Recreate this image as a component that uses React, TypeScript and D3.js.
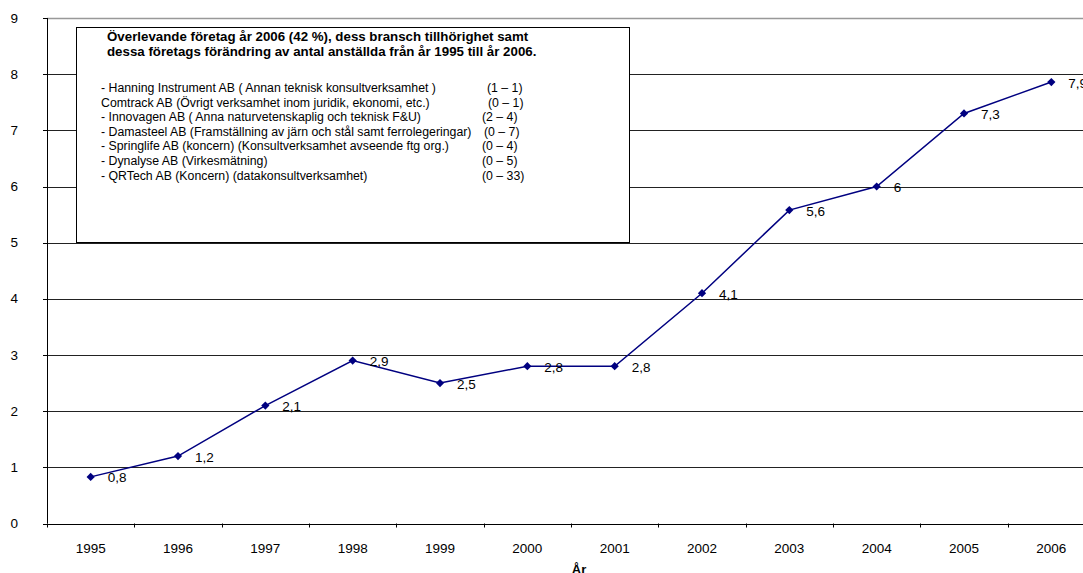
import * as d3 from 'd3'

const years = ['1995', '1996', '1997', '1998', '1999', '2000', '2001', '2002', '2003', '2004', '2005', '2006']
const values = [0.83, 1.2, 2.1, 2.9, 2.5, 2.8, 2.8, 4.1, 5.58, 6, 7.3, 7.86]
const yTicks = [0, 1, 2, 3, 4, 5, 6, 7, 8, 9]

const noteTitle = [
  'Överlevande företag år 2006 (42 %), dess bransch tillhörighet samt',
  'dessa företags förändring av antal anställda från år 1995 till år 2006.',
]
const noteCompanies = [
  '- Hanning Instrument AB ( Annan teknisk konsultverksamhet )',
  'Comtrack AB (Övrigt verksamhet inom juridik, ekonomi, etc.)',
  '- Innovagen AB ( Anna naturvetenskaplig och teknisk F&U)',
  '- Damasteel AB (Framställning av järn och stål samt ferrolegeringar)',
  '- Springlife AB (koncern) (Konsultverksamhet avseende ftg org.)',
  '- Dynalyse AB (Virkesmätning)',
  '- QRTech AB (Koncern) (datakonsultverksamhet)',
]
const noteRanges = ['(1 – 1)', '(0 – 1)', '(2 – 4)', '(0 – 7)', '(0 – 4)', '(0 – 5)', '(0 – 33)']
const rangeOffsets = [5, 6, 0, 2, 0, 0, 0]

const WIDTH = 1083
const HEIGHT = 573
const PLOT = { left: 47, top: 18, bottom: 523.5, right: 1095 }
const FONT = 'Arial, "Liberation Sans", sans-serif'

const fmt = (v: number) => {
  const s = v.toFixed(1)
  return (s.endsWith('.0') ? s.slice(0, -2) : s).replace('.', ',')
}

export default function App() {
  const x = d3.scaleBand<string>().domain(years).range([PLOT.left, PLOT.right])
  const y = d3.scaleLinear().domain([0, 9]).range([PLOT.bottom, PLOT.top])
  const cx = (yr: string) => (x(yr) ?? 0) + x.bandwidth() / 2

  const line = d3.line<number>()
    .x((_, i) => cx(years[i]))
    .y(d => y(d))

  // square rotated 45deg gives the Excel-style diamond
  const marker = d3.symbol().type(d3.symbolSquare).size(34)()

  const edges = years.map(yr => x(yr) ?? 0).concat([PLOT.right])

  return (
    <svg
      width={WIDTH}
      height={HEIGHT}
      style={{ position: 'absolute', left: 0, top: 0, background: '#fff', fontFamily: FONT }}
    >
      {/* gridlines */}
      {yTicks.filter(t => t > 0).map(t => (
        <line
          key={`g-${t}`}
          x1={PLOT.left}
          x2={WIDTH}
          y1={Math.round(y(t)) + 0.5}
          y2={Math.round(y(t)) + 0.5}
          stroke={t === 9 ? '#999' : '#222'}
          strokeWidth={t === 9 ? 1.5 : 1}
        />
      ))}

      {/* y axis */}
      <line x1={PLOT.left + 0.5} x2={PLOT.left + 0.5} y1={PLOT.top} y2={PLOT.bottom} stroke="#000" />
      {yTicks.map(t => (
        <g key={`yt-${t}`}>
          <line x1={PLOT.left - 4} x2={PLOT.left} y1={Math.round(y(t)) + 0.5} y2={Math.round(y(t)) + 0.5} stroke="#000" />
          <text x={18} y={y(t)} textAnchor="end" dominantBaseline="central" fontSize={13.5} fill="#000">
            {t}
          </text>
        </g>
      ))}

      {/* x axis */}
      <line x1={PLOT.left} x2={WIDTH} y1={Math.round(PLOT.bottom) + 0.5} y2={Math.round(PLOT.bottom) + 0.5} stroke="#000" />
      {edges.map((e, i) => (
        <line
          key={`xt-${i}`}
          x1={Math.round(e) + 0.5}
          x2={Math.round(e) + 0.5}
          y1={PLOT.bottom}
          y2={PLOT.bottom + 4}
          stroke="#000"
        />
      ))}
      {years.map(yr => (
        <text key={`xl-${yr}`} x={cx(yr)} y={548} textAnchor="middle" dominantBaseline="central" fontSize={13.5} fill="#000">
          {yr}
        </text>
      ))}
      <text x={579} y={574} textAnchor="middle" fontSize={13} fontWeight="bold" fill="#000">
        År
      </text>

      {/* note box */}
      <rect x={76.5} y={27.5} width={553} height={215} fill="#fff" stroke="#000" strokeWidth={1} />
      {noteTitle.map((t, i) => (
        <text key={`nt-${i}`} x={107} y={36 + i * 15.5} dominantBaseline="central" fontSize={13.3} fontWeight="bold" fill="#000">
          {t}
        </text>
      ))}
      {noteCompanies.map((c, i) => (
        <g key={`nc-${i}`}>
          <text x={101} y={88 + i * 14.6} dominantBaseline="central" fontSize={12.3} fill="#000">
            {c}
          </text>
          <text x={482 + rangeOffsets[i]} y={88 + i * 14.6} dominantBaseline="central" fontSize={12.3} fill="#000">
            {noteRanges[i]}
          </text>
        </g>
      ))}

      {/* series */}
      <path d={line(values) ?? ''} fill="none" stroke="#000080" strokeWidth={1.5} />
      {values.map((v, i) => (
        <g key={`p-${i}`}>
          <path d={marker ?? ''} transform={`translate(${cx(years[i])},${y(v)}) rotate(45)`} fill="#000080" />
          <text x={cx(years[i]) + 17} y={y(v) + 1} dominantBaseline="central" fontSize={13.5} fill="#000">
            {fmt(v)}
          </text>
        </g>
      ))}
    </svg>
  )
}
